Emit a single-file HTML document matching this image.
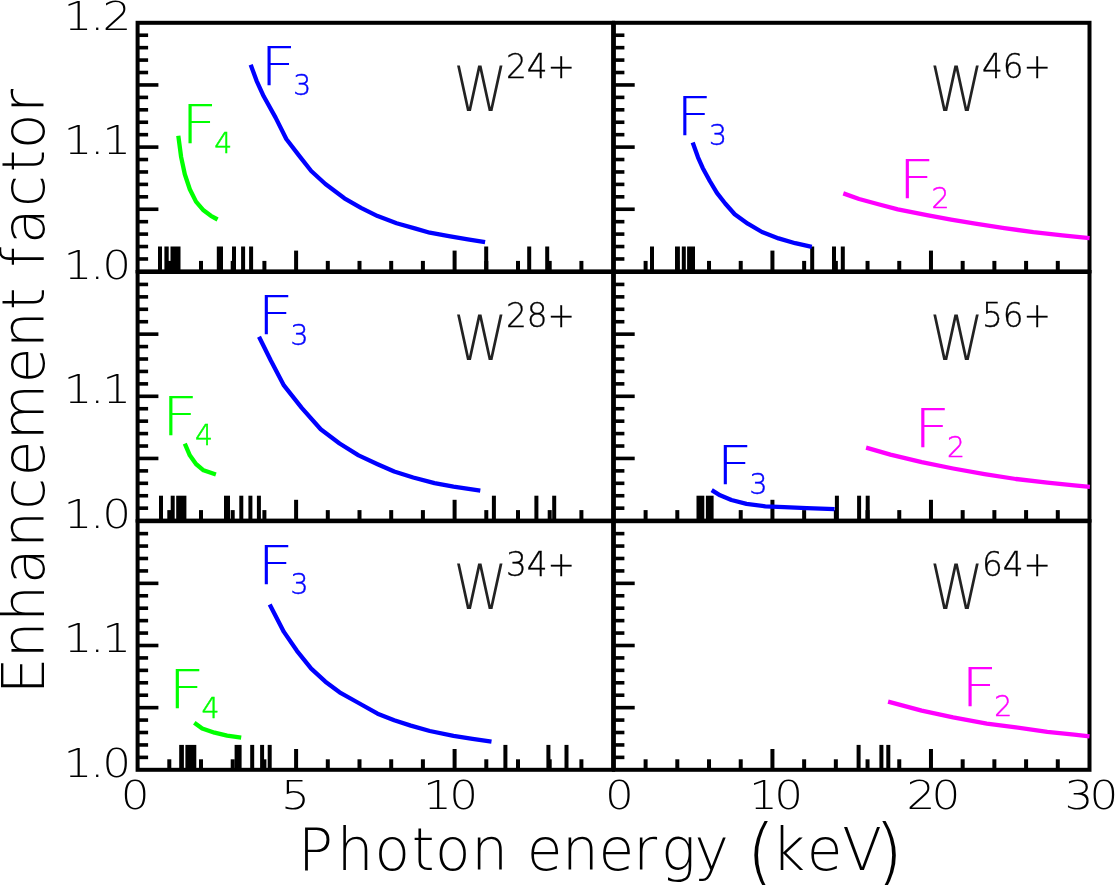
<!DOCTYPE html>
<html lang="en">
<head>
<meta charset="utf-8">
<title>Enhancement factor vs photon energy</title>
<style>
html,body{margin:0;padding:0;background:#fff;}
body{width:1115px;height:885px;overflow:hidden;}
svg{display:block;will-change:transform;}
text{white-space:pre;}
</style>
</head>
<body>
<svg width="1115" height="885" viewBox="0 0 1115 885">
<rect x="0" y="0" width="1115" height="885" fill="#ffffff"/>
<g id="axes" fill="#000">
<rect x="137.60" y="22.80" width="475.50" height="248.60" fill="none" stroke="#000" stroke-width="4.0"/>
<rect x="137.60" y="257.17" width="10.50" height="3.60" fill="#000"/>
<rect x="137.60" y="244.74" width="10.50" height="3.60" fill="#000"/>
<rect x="137.60" y="232.31" width="10.50" height="3.60" fill="#000"/>
<rect x="137.60" y="219.88" width="10.50" height="3.60" fill="#000"/>
<rect x="137.60" y="207.45" width="20.80" height="3.60" fill="#000"/>
<rect x="137.60" y="195.02" width="10.50" height="3.60" fill="#000"/>
<rect x="137.60" y="182.59" width="10.50" height="3.60" fill="#000"/>
<rect x="137.60" y="170.16" width="10.50" height="3.60" fill="#000"/>
<rect x="137.60" y="157.73" width="10.50" height="3.60" fill="#000"/>
<rect x="137.60" y="145.30" width="20.80" height="3.60" fill="#000"/>
<rect x="137.60" y="132.87" width="10.50" height="3.60" fill="#000"/>
<rect x="137.60" y="120.44" width="10.50" height="3.60" fill="#000"/>
<rect x="137.60" y="108.01" width="10.50" height="3.60" fill="#000"/>
<rect x="137.60" y="95.58" width="10.50" height="3.60" fill="#000"/>
<rect x="137.60" y="83.15" width="20.80" height="3.60" fill="#000"/>
<rect x="137.60" y="70.72" width="10.50" height="3.60" fill="#000"/>
<rect x="137.60" y="58.29" width="10.50" height="3.60" fill="#000"/>
<rect x="137.60" y="45.86" width="10.50" height="3.60" fill="#000"/>
<rect x="137.60" y="33.43" width="10.50" height="3.60" fill="#000"/>
<rect x="167.30" y="260.90" width="4.00" height="10.50" fill="#000"/>
<rect x="199.00" y="260.90" width="4.00" height="10.50" fill="#000"/>
<rect x="230.70" y="260.90" width="4.00" height="10.50" fill="#000"/>
<rect x="262.40" y="260.90" width="4.00" height="10.50" fill="#000"/>
<rect x="294.10" y="250.60" width="4.00" height="20.80" fill="#000"/>
<rect x="325.80" y="260.90" width="4.00" height="10.50" fill="#000"/>
<rect x="357.50" y="260.90" width="4.00" height="10.50" fill="#000"/>
<rect x="389.20" y="260.90" width="4.00" height="10.50" fill="#000"/>
<rect x="420.90" y="260.90" width="4.00" height="10.50" fill="#000"/>
<rect x="452.60" y="250.60" width="4.00" height="20.80" fill="#000"/>
<rect x="484.30" y="260.90" width="4.00" height="10.50" fill="#000"/>
<rect x="516.00" y="260.90" width="4.00" height="10.50" fill="#000"/>
<rect x="547.70" y="260.90" width="4.00" height="10.50" fill="#000"/>
<rect x="579.40" y="260.90" width="4.00" height="10.50" fill="#000"/>
<rect x="158.00" y="246.50" width="4.00" height="24.90" fill="#000"/>
<rect x="164.40" y="246.50" width="4.30" height="24.90" fill="#000"/>
<rect x="170.50" y="246.50" width="10.00" height="24.90" fill="#000"/>
<rect x="216.80" y="246.50" width="6.20" height="24.90" fill="#000"/>
<rect x="232.00" y="246.50" width="4.00" height="24.90" fill="#000"/>
<rect x="241.10" y="246.50" width="4.00" height="24.90" fill="#000"/>
<rect x="249.10" y="246.50" width="4.00" height="24.90" fill="#000"/>
<rect x="484.20" y="246.50" width="4.00" height="24.90" fill="#000"/>
<rect x="527.20" y="246.50" width="4.00" height="24.90" fill="#000"/>
<rect x="545.20" y="246.50" width="4.00" height="24.90" fill="#000"/>
<rect x="613.90" y="22.80" width="475.60" height="248.60" fill="none" stroke="#000" stroke-width="4.0"/>
<rect x="613.90" y="257.17" width="10.50" height="3.60" fill="#000"/>
<rect x="613.90" y="244.74" width="10.50" height="3.60" fill="#000"/>
<rect x="613.90" y="232.31" width="10.50" height="3.60" fill="#000"/>
<rect x="613.90" y="219.88" width="10.50" height="3.60" fill="#000"/>
<rect x="613.90" y="207.45" width="20.80" height="3.60" fill="#000"/>
<rect x="613.90" y="195.02" width="10.50" height="3.60" fill="#000"/>
<rect x="613.90" y="182.59" width="10.50" height="3.60" fill="#000"/>
<rect x="613.90" y="170.16" width="10.50" height="3.60" fill="#000"/>
<rect x="613.90" y="157.73" width="10.50" height="3.60" fill="#000"/>
<rect x="613.90" y="145.30" width="20.80" height="3.60" fill="#000"/>
<rect x="613.90" y="132.87" width="10.50" height="3.60" fill="#000"/>
<rect x="613.90" y="120.44" width="10.50" height="3.60" fill="#000"/>
<rect x="613.90" y="108.01" width="10.50" height="3.60" fill="#000"/>
<rect x="613.90" y="95.58" width="10.50" height="3.60" fill="#000"/>
<rect x="613.90" y="83.15" width="20.80" height="3.60" fill="#000"/>
<rect x="613.90" y="70.72" width="10.50" height="3.60" fill="#000"/>
<rect x="613.90" y="58.29" width="10.50" height="3.60" fill="#000"/>
<rect x="613.90" y="45.86" width="10.50" height="3.60" fill="#000"/>
<rect x="613.90" y="33.43" width="10.50" height="3.60" fill="#000"/>
<rect x="643.61" y="260.90" width="4.00" height="10.50" fill="#000"/>
<rect x="675.31" y="260.90" width="4.00" height="10.50" fill="#000"/>
<rect x="707.02" y="260.90" width="4.00" height="10.50" fill="#000"/>
<rect x="738.73" y="260.90" width="4.00" height="10.50" fill="#000"/>
<rect x="770.43" y="250.60" width="4.00" height="20.80" fill="#000"/>
<rect x="802.14" y="260.90" width="4.00" height="10.50" fill="#000"/>
<rect x="833.85" y="260.90" width="4.00" height="10.50" fill="#000"/>
<rect x="865.55" y="260.90" width="4.00" height="10.50" fill="#000"/>
<rect x="897.26" y="260.90" width="4.00" height="10.50" fill="#000"/>
<rect x="928.97" y="250.60" width="4.00" height="20.80" fill="#000"/>
<rect x="960.67" y="260.90" width="4.00" height="10.50" fill="#000"/>
<rect x="992.38" y="260.90" width="4.00" height="10.50" fill="#000"/>
<rect x="1024.09" y="260.90" width="4.00" height="10.50" fill="#000"/>
<rect x="1055.79" y="260.90" width="4.00" height="10.50" fill="#000"/>
<rect x="650.00" y="246.50" width="4.00" height="24.90" fill="#000"/>
<rect x="675.00" y="246.50" width="4.90" height="24.90" fill="#000"/>
<rect x="681.80" y="246.50" width="4.00" height="24.90" fill="#000"/>
<rect x="687.10" y="246.50" width="7.90" height="24.90" fill="#000"/>
<rect x="810.20" y="246.50" width="4.00" height="24.90" fill="#000"/>
<rect x="832.00" y="246.50" width="4.00" height="24.90" fill="#000"/>
<rect x="840.80" y="246.50" width="4.00" height="24.90" fill="#000"/>
<rect x="137.60" y="272.00" width="475.50" height="248.60" fill="none" stroke="#000" stroke-width="4.0"/>
<rect x="137.60" y="506.37" width="10.50" height="3.60" fill="#000"/>
<rect x="137.60" y="493.94" width="10.50" height="3.60" fill="#000"/>
<rect x="137.60" y="481.51" width="10.50" height="3.60" fill="#000"/>
<rect x="137.60" y="469.08" width="10.50" height="3.60" fill="#000"/>
<rect x="137.60" y="456.65" width="20.80" height="3.60" fill="#000"/>
<rect x="137.60" y="444.22" width="10.50" height="3.60" fill="#000"/>
<rect x="137.60" y="431.79" width="10.50" height="3.60" fill="#000"/>
<rect x="137.60" y="419.36" width="10.50" height="3.60" fill="#000"/>
<rect x="137.60" y="406.93" width="10.50" height="3.60" fill="#000"/>
<rect x="137.60" y="394.50" width="20.80" height="3.60" fill="#000"/>
<rect x="137.60" y="382.07" width="10.50" height="3.60" fill="#000"/>
<rect x="137.60" y="369.64" width="10.50" height="3.60" fill="#000"/>
<rect x="137.60" y="357.21" width="10.50" height="3.60" fill="#000"/>
<rect x="137.60" y="344.78" width="10.50" height="3.60" fill="#000"/>
<rect x="137.60" y="332.35" width="20.80" height="3.60" fill="#000"/>
<rect x="137.60" y="319.92" width="10.50" height="3.60" fill="#000"/>
<rect x="137.60" y="307.49" width="10.50" height="3.60" fill="#000"/>
<rect x="137.60" y="295.06" width="10.50" height="3.60" fill="#000"/>
<rect x="137.60" y="282.63" width="10.50" height="3.60" fill="#000"/>
<rect x="167.30" y="510.10" width="4.00" height="10.50" fill="#000"/>
<rect x="199.00" y="510.10" width="4.00" height="10.50" fill="#000"/>
<rect x="230.70" y="510.10" width="4.00" height="10.50" fill="#000"/>
<rect x="262.40" y="510.10" width="4.00" height="10.50" fill="#000"/>
<rect x="294.10" y="499.80" width="4.00" height="20.80" fill="#000"/>
<rect x="325.80" y="510.10" width="4.00" height="10.50" fill="#000"/>
<rect x="357.50" y="510.10" width="4.00" height="10.50" fill="#000"/>
<rect x="389.20" y="510.10" width="4.00" height="10.50" fill="#000"/>
<rect x="420.90" y="510.10" width="4.00" height="10.50" fill="#000"/>
<rect x="452.60" y="499.80" width="4.00" height="20.80" fill="#000"/>
<rect x="484.30" y="510.10" width="4.00" height="10.50" fill="#000"/>
<rect x="516.00" y="510.10" width="4.00" height="10.50" fill="#000"/>
<rect x="547.70" y="510.10" width="4.00" height="10.50" fill="#000"/>
<rect x="579.40" y="510.10" width="4.00" height="10.50" fill="#000"/>
<rect x="159.00" y="495.70" width="4.00" height="24.90" fill="#000"/>
<rect x="170.70" y="495.70" width="4.00" height="24.90" fill="#000"/>
<rect x="176.20" y="495.70" width="10.20" height="24.90" fill="#000"/>
<rect x="224.00" y="495.70" width="6.00" height="24.90" fill="#000"/>
<rect x="239.30" y="495.70" width="4.00" height="24.90" fill="#000"/>
<rect x="248.40" y="495.70" width="4.00" height="24.90" fill="#000"/>
<rect x="256.90" y="495.70" width="4.00" height="24.90" fill="#000"/>
<rect x="491.90" y="495.70" width="4.00" height="24.90" fill="#000"/>
<rect x="534.40" y="495.70" width="4.00" height="24.90" fill="#000"/>
<rect x="552.20" y="495.70" width="4.00" height="24.90" fill="#000"/>
<rect x="613.90" y="272.00" width="475.60" height="248.60" fill="none" stroke="#000" stroke-width="4.0"/>
<rect x="613.90" y="506.37" width="10.50" height="3.60" fill="#000"/>
<rect x="613.90" y="493.94" width="10.50" height="3.60" fill="#000"/>
<rect x="613.90" y="481.51" width="10.50" height="3.60" fill="#000"/>
<rect x="613.90" y="469.08" width="10.50" height="3.60" fill="#000"/>
<rect x="613.90" y="456.65" width="20.80" height="3.60" fill="#000"/>
<rect x="613.90" y="444.22" width="10.50" height="3.60" fill="#000"/>
<rect x="613.90" y="431.79" width="10.50" height="3.60" fill="#000"/>
<rect x="613.90" y="419.36" width="10.50" height="3.60" fill="#000"/>
<rect x="613.90" y="406.93" width="10.50" height="3.60" fill="#000"/>
<rect x="613.90" y="394.50" width="20.80" height="3.60" fill="#000"/>
<rect x="613.90" y="382.07" width="10.50" height="3.60" fill="#000"/>
<rect x="613.90" y="369.64" width="10.50" height="3.60" fill="#000"/>
<rect x="613.90" y="357.21" width="10.50" height="3.60" fill="#000"/>
<rect x="613.90" y="344.78" width="10.50" height="3.60" fill="#000"/>
<rect x="613.90" y="332.35" width="20.80" height="3.60" fill="#000"/>
<rect x="613.90" y="319.92" width="10.50" height="3.60" fill="#000"/>
<rect x="613.90" y="307.49" width="10.50" height="3.60" fill="#000"/>
<rect x="613.90" y="295.06" width="10.50" height="3.60" fill="#000"/>
<rect x="613.90" y="282.63" width="10.50" height="3.60" fill="#000"/>
<rect x="643.61" y="510.10" width="4.00" height="10.50" fill="#000"/>
<rect x="675.31" y="510.10" width="4.00" height="10.50" fill="#000"/>
<rect x="707.02" y="510.10" width="4.00" height="10.50" fill="#000"/>
<rect x="738.73" y="510.10" width="4.00" height="10.50" fill="#000"/>
<rect x="770.43" y="499.80" width="4.00" height="20.80" fill="#000"/>
<rect x="802.14" y="510.10" width="4.00" height="10.50" fill="#000"/>
<rect x="833.85" y="510.10" width="4.00" height="10.50" fill="#000"/>
<rect x="865.55" y="510.10" width="4.00" height="10.50" fill="#000"/>
<rect x="897.26" y="510.10" width="4.00" height="10.50" fill="#000"/>
<rect x="928.97" y="499.80" width="4.00" height="20.80" fill="#000"/>
<rect x="960.67" y="510.10" width="4.00" height="10.50" fill="#000"/>
<rect x="992.38" y="510.10" width="4.00" height="10.50" fill="#000"/>
<rect x="1024.09" y="510.10" width="4.00" height="10.50" fill="#000"/>
<rect x="1055.79" y="510.10" width="4.00" height="10.50" fill="#000"/>
<rect x="696.50" y="495.70" width="7.80" height="24.90" fill="#000"/>
<rect x="705.90" y="495.70" width="7.70" height="24.90" fill="#000"/>
<rect x="834.90" y="495.70" width="4.00" height="24.90" fill="#000"/>
<rect x="857.10" y="495.70" width="4.00" height="24.90" fill="#000"/>
<rect x="865.70" y="495.70" width="4.00" height="24.90" fill="#000"/>
<rect x="137.60" y="521.20" width="475.50" height="248.60" fill="none" stroke="#000" stroke-width="4.0"/>
<rect x="137.60" y="755.57" width="10.50" height="3.60" fill="#000"/>
<rect x="137.60" y="743.14" width="10.50" height="3.60" fill="#000"/>
<rect x="137.60" y="730.71" width="10.50" height="3.60" fill="#000"/>
<rect x="137.60" y="718.28" width="10.50" height="3.60" fill="#000"/>
<rect x="137.60" y="705.85" width="20.80" height="3.60" fill="#000"/>
<rect x="137.60" y="693.42" width="10.50" height="3.60" fill="#000"/>
<rect x="137.60" y="680.99" width="10.50" height="3.60" fill="#000"/>
<rect x="137.60" y="668.56" width="10.50" height="3.60" fill="#000"/>
<rect x="137.60" y="656.13" width="10.50" height="3.60" fill="#000"/>
<rect x="137.60" y="643.70" width="20.80" height="3.60" fill="#000"/>
<rect x="137.60" y="631.27" width="10.50" height="3.60" fill="#000"/>
<rect x="137.60" y="618.84" width="10.50" height="3.60" fill="#000"/>
<rect x="137.60" y="606.41" width="10.50" height="3.60" fill="#000"/>
<rect x="137.60" y="593.98" width="10.50" height="3.60" fill="#000"/>
<rect x="137.60" y="581.55" width="20.80" height="3.60" fill="#000"/>
<rect x="137.60" y="569.12" width="10.50" height="3.60" fill="#000"/>
<rect x="137.60" y="556.69" width="10.50" height="3.60" fill="#000"/>
<rect x="137.60" y="544.26" width="10.50" height="3.60" fill="#000"/>
<rect x="137.60" y="531.83" width="10.50" height="3.60" fill="#000"/>
<rect x="167.30" y="759.30" width="4.00" height="10.50" fill="#000"/>
<rect x="199.00" y="759.30" width="4.00" height="10.50" fill="#000"/>
<rect x="230.70" y="759.30" width="4.00" height="10.50" fill="#000"/>
<rect x="262.40" y="759.30" width="4.00" height="10.50" fill="#000"/>
<rect x="294.10" y="749.00" width="4.00" height="20.80" fill="#000"/>
<rect x="325.80" y="759.30" width="4.00" height="10.50" fill="#000"/>
<rect x="357.50" y="759.30" width="4.00" height="10.50" fill="#000"/>
<rect x="389.20" y="759.30" width="4.00" height="10.50" fill="#000"/>
<rect x="420.90" y="759.30" width="4.00" height="10.50" fill="#000"/>
<rect x="452.60" y="749.00" width="4.00" height="20.80" fill="#000"/>
<rect x="484.30" y="759.30" width="4.00" height="10.50" fill="#000"/>
<rect x="516.00" y="759.30" width="4.00" height="10.50" fill="#000"/>
<rect x="547.70" y="759.30" width="4.00" height="10.50" fill="#000"/>
<rect x="579.40" y="759.30" width="4.00" height="10.50" fill="#000"/>
<rect x="179.20" y="744.90" width="4.70" height="24.90" fill="#000"/>
<rect x="185.40" y="744.90" width="10.90" height="24.90" fill="#000"/>
<rect x="234.60" y="744.90" width="7.00" height="24.90" fill="#000"/>
<rect x="250.20" y="744.90" width="4.00" height="24.90" fill="#000"/>
<rect x="260.10" y="744.90" width="4.00" height="24.90" fill="#000"/>
<rect x="267.70" y="744.90" width="4.00" height="24.90" fill="#000"/>
<rect x="503.40" y="744.90" width="4.00" height="24.90" fill="#000"/>
<rect x="546.40" y="744.90" width="4.00" height="24.90" fill="#000"/>
<rect x="564.50" y="744.90" width="4.00" height="24.90" fill="#000"/>
<rect x="613.90" y="521.20" width="475.60" height="248.60" fill="none" stroke="#000" stroke-width="4.0"/>
<rect x="613.90" y="755.57" width="10.50" height="3.60" fill="#000"/>
<rect x="613.90" y="743.14" width="10.50" height="3.60" fill="#000"/>
<rect x="613.90" y="730.71" width="10.50" height="3.60" fill="#000"/>
<rect x="613.90" y="718.28" width="10.50" height="3.60" fill="#000"/>
<rect x="613.90" y="705.85" width="20.80" height="3.60" fill="#000"/>
<rect x="613.90" y="693.42" width="10.50" height="3.60" fill="#000"/>
<rect x="613.90" y="680.99" width="10.50" height="3.60" fill="#000"/>
<rect x="613.90" y="668.56" width="10.50" height="3.60" fill="#000"/>
<rect x="613.90" y="656.13" width="10.50" height="3.60" fill="#000"/>
<rect x="613.90" y="643.70" width="20.80" height="3.60" fill="#000"/>
<rect x="613.90" y="631.27" width="10.50" height="3.60" fill="#000"/>
<rect x="613.90" y="618.84" width="10.50" height="3.60" fill="#000"/>
<rect x="613.90" y="606.41" width="10.50" height="3.60" fill="#000"/>
<rect x="613.90" y="593.98" width="10.50" height="3.60" fill="#000"/>
<rect x="613.90" y="581.55" width="20.80" height="3.60" fill="#000"/>
<rect x="613.90" y="569.12" width="10.50" height="3.60" fill="#000"/>
<rect x="613.90" y="556.69" width="10.50" height="3.60" fill="#000"/>
<rect x="613.90" y="544.26" width="10.50" height="3.60" fill="#000"/>
<rect x="613.90" y="531.83" width="10.50" height="3.60" fill="#000"/>
<rect x="643.61" y="759.30" width="4.00" height="10.50" fill="#000"/>
<rect x="675.31" y="759.30" width="4.00" height="10.50" fill="#000"/>
<rect x="707.02" y="759.30" width="4.00" height="10.50" fill="#000"/>
<rect x="738.73" y="759.30" width="4.00" height="10.50" fill="#000"/>
<rect x="770.43" y="749.00" width="4.00" height="20.80" fill="#000"/>
<rect x="802.14" y="759.30" width="4.00" height="10.50" fill="#000"/>
<rect x="833.85" y="759.30" width="4.00" height="10.50" fill="#000"/>
<rect x="865.55" y="759.30" width="4.00" height="10.50" fill="#000"/>
<rect x="897.26" y="759.30" width="4.00" height="10.50" fill="#000"/>
<rect x="928.97" y="749.00" width="4.00" height="20.80" fill="#000"/>
<rect x="960.67" y="759.30" width="4.00" height="10.50" fill="#000"/>
<rect x="992.38" y="759.30" width="4.00" height="10.50" fill="#000"/>
<rect x="1024.09" y="759.30" width="4.00" height="10.50" fill="#000"/>
<rect x="1055.79" y="759.30" width="4.00" height="10.50" fill="#000"/>
<rect x="856.60" y="744.90" width="4.00" height="24.90" fill="#000"/>
<rect x="879.40" y="744.90" width="4.00" height="24.90" fill="#000"/>
<rect x="886.30" y="744.90" width="4.00" height="24.90" fill="#000"/>
</g>
<g id="curves" fill="none" stroke-width="4.3" stroke-linejoin="round">
<path d="M178.3,135.7 L181.1,156.9 L184.8,174.3 L189.8,189.2 L196.0,201.6 L203.5,210.3 L210.9,215.8 L217.6,219.5" stroke="#00ff00"/>
<path d="M250.7,64.7 L256.6,80.8 L263.7,96.3 L275.6,117.6 L286.3,139.0 L298.1,154.4 L311.2,171.0 L325.4,184.0 L344.4,198.3 L361.0,207.8 L377.6,216.1 L396.6,223.2 L415.6,228.6 L429.8,232.7 L448.8,236.2 L467.8,239.3 L485.1,242.2" stroke="#0000ff"/>
<path d="M184.8,443.7 L189.8,455.3 L196.0,464.0 L203.5,470.3 L215.9,474.5" stroke="#00ff00"/>
<path d="M259.0,336.8 L270.8,360.5 L283.9,385.4 L301.7,407.9 L320.7,429.3 L339.6,443.5 L358.6,455.4 L377.6,464.2 L394.2,471.5 L413.2,477.5 L434.5,483.2 L453.5,486.7 L480.3,490.7" stroke="#0000ff"/>
<path d="M194.3,722.7 L202.2,728.5 L214.6,732.7 L227.1,735.7 L241.2,737.7" stroke="#00ff00"/>
<path d="M269.7,604.6 L283.9,631.9 L296.9,650.8 L311.2,668.6 L325.4,681.7 L339.6,692.3 L358.6,703.0 L377.6,713.7 L394.2,720.3 L410.8,725.6 L429.8,731.0 L453.5,735.8 L472.5,738.9 L491.5,741.7" stroke="#0000ff"/>
<path d="M692.7,142.6 L698.0,157.3 L702.7,167.9 L709.8,181.0 L716.9,192.9 L725.2,203.5 L734.7,214.2 L747.8,223.7 L762.0,232.0 L778.6,238.4 L795.2,243.2 L811.8,246.9" stroke="#0000ff"/>
<path d="M843.3,193.4 L859.1,199.0 L878.4,204.3 L897.8,209.4 L926.9,215.2 L951.1,219.6 L975.3,223.7 L1004.3,228.1 L1033.4,232.2 L1062.4,235.3 L1089.6,238.2" stroke="#ff00ff"/>
<path d="M711.7,490.1 L720.1,495.3 L731.4,500.0 L746.5,503.8 L765.3,506.3 L784.2,507.2 L806.8,508.1 L834.6,509.1" stroke="#0000ff"/>
<path d="M866.1,447.6 L890.4,454.6 L921.7,462.2 L953.1,468.5 L984.5,474.1 L1015.9,479.0 L1047.3,482.6 L1074.2,485.3 L1089.9,486.9" stroke="#ff00ff"/>
<path d="M888.1,701.7 L921.7,710.6 L953.1,717.4 L986.8,723.6 L1015.9,727.4 L1047.3,731.9 L1074.2,734.6 L1089.5,736.4" stroke="#ff00ff"/>
</g>
<g id="labels" font-family="'DejaVu Sans Light','DejaVu Sans','Liberation Sans',sans-serif" font-weight="200">
<text transform="scale(1.170,1)" y="29.7" font-size="38.8" fill="#000"  x="54.3 76.9 87.7">1.2</text>
<text transform="scale(1.170,1)" y="154.1" font-size="38.8" fill="#000"  x="54.3 76.9 87.4">1.1</text>
<text transform="scale(1.170,1)" y="278.7" font-size="38.8" fill="#000"  x="54.3 76.9 87.4">1.0</text>
<text transform="scale(1.170,1)" y="403.3" font-size="38.8" fill="#000"  x="54.3 76.9 87.4">1.1</text>
<text transform="scale(1.170,1)" y="527.9" font-size="38.8" fill="#000"  x="54.3 76.9 87.4">1.0</text>
<text transform="scale(1.170,1)" y="652.5" font-size="38.8" fill="#000"  x="54.3 76.9 87.4">1.1</text>
<text transform="scale(1.170,1)" y="777.1" font-size="38.8" fill="#000"  x="54.3 76.9 87.4">1.0</text>
<text transform="scale(1.170,1)" y="808.6" font-size="38.8" fill="#000"  x="103.2">0</text>
<text transform="scale(1.170,1)" y="808.6" font-size="38.8" fill="#000"  x="240.1">5</text>
<text transform="scale(1.170,1)" y="808.6" font-size="38.8" fill="#000"  x="361.6 383.9">10</text>
<text transform="scale(1.170,1)" y="808.6" font-size="38.8" fill="#000"  x="517.0">0</text>
<text transform="scale(1.170,1)" y="808.6" font-size="38.8" fill="#000"  x="640.2 661.8">10</text>
<text transform="scale(1.170,1)" y="808.6" font-size="38.8" fill="#000"  x="774.7 796.1">20</text>
<text transform="scale(1.170,1)" y="808.6" font-size="38.8" fill="#000"  x="909.9 931.1">30</text>
<text y="870.3" font-size="58" fill="#000" x="298.0 336.7 374.5 411.8 435.1 471.3 505.0 526.8 562.0 598.6 633.2 661.1 694.6 727.0 746.0 771.4 806.7 842.2 874.1">Photon energy <tspan font-size="76" dy="8.4">(</tspan><tspan dy="-8.4">keV</tspan><tspan font-size="76" dy="8.4">)</tspan></text>
<text transform="translate(43.8,700.0) rotate(-90)" y="0" font-size="58" fill="#000" x="5.8 41.7 78.2 116.0 152.2 190.3 223.8 259.8 316.8 351.9 389.7 412.0 432.4 456.1 493.1 527.6 551.1 587.3">Enhancement factor</text>
<text x="453.3" y="110.6" font-size="63" fill="#222" textLength="54.4" lengthAdjust="spacingAndGlyphs">W</text>
<text x="505.9" y="78.0" font-size="34" fill="#000" stroke="#000" stroke-width="0.35" textLength="69" lengthAdjust="spacingAndGlyphs">24+</text>
<text x="929.4" y="110.6" font-size="63" fill="#222" textLength="54.4" lengthAdjust="spacingAndGlyphs">W</text>
<text x="982.0" y="78.0" font-size="34" fill="#000" stroke="#000" stroke-width="0.35" textLength="69" lengthAdjust="spacingAndGlyphs">46+</text>
<text x="453.3" y="359.8" font-size="63" fill="#222" textLength="54.4" lengthAdjust="spacingAndGlyphs">W</text>
<text x="505.9" y="327.2" font-size="34" fill="#000" stroke="#000" stroke-width="0.35" textLength="69" lengthAdjust="spacingAndGlyphs">28+</text>
<text x="929.4" y="359.8" font-size="63" fill="#222" textLength="54.4" lengthAdjust="spacingAndGlyphs">W</text>
<text x="982.0" y="327.2" font-size="34" fill="#000" stroke="#000" stroke-width="0.35" textLength="69" lengthAdjust="spacingAndGlyphs">56+</text>
<text x="453.3" y="609.0" font-size="63" fill="#222" textLength="54.4" lengthAdjust="spacingAndGlyphs">W</text>
<text x="505.9" y="576.4" font-size="34" fill="#000" stroke="#000" stroke-width="0.35" textLength="69" lengthAdjust="spacingAndGlyphs">34+</text>
<text x="929.4" y="609.0" font-size="63" fill="#222" textLength="54.4" lengthAdjust="spacingAndGlyphs">W</text>
<text x="982.0" y="576.4" font-size="34" fill="#000" stroke="#000" stroke-width="0.35" textLength="69" lengthAdjust="spacingAndGlyphs">64+</text>
<text x="259.8" y="85.0" font-size="52.6" fill="#0000ff" textLength="36.6" lengthAdjust="spacingAndGlyphs">F</text>
<text x="293.3" y="95.2" font-size="28.2" fill="#0000ff" stroke="#0000ff" stroke-width="0.5">3</text>
<text x="180.7" y="142.5" font-size="52.6" fill="#00ff00" textLength="36.6" lengthAdjust="spacingAndGlyphs">F</text>
<text x="214.2" y="152.7" font-size="28.2" fill="#00ff00" stroke="#00ff00" stroke-width="0.5">4</text>
<text x="256.9" y="334.4" font-size="52.6" fill="#0000ff" textLength="36.6" lengthAdjust="spacingAndGlyphs">F</text>
<text x="290.4" y="344.6" font-size="28.2" fill="#0000ff" stroke="#0000ff" stroke-width="0.5">3</text>
<text x="161.6" y="434.6" font-size="52.6" fill="#00ff00" textLength="36.6" lengthAdjust="spacingAndGlyphs">F</text>
<text x="195.1" y="444.8" font-size="28.2" fill="#00ff00" stroke="#00ff00" stroke-width="0.5">4</text>
<text x="256.9" y="583.9" font-size="52.6" fill="#0000ff" textLength="36.6" lengthAdjust="spacingAndGlyphs">F</text>
<text x="290.4" y="594.1" font-size="28.2" fill="#0000ff" stroke="#0000ff" stroke-width="0.5">3</text>
<text x="167.9" y="708.2" font-size="52.6" fill="#00ff00" textLength="36.6" lengthAdjust="spacingAndGlyphs">F</text>
<text x="201.4" y="718.4" font-size="28.2" fill="#00ff00" stroke="#00ff00" stroke-width="0.5">4</text>
<text x="675.5" y="135.0" font-size="52.6" fill="#0000ff" textLength="36.6" lengthAdjust="spacingAndGlyphs">F</text>
<text x="709.0" y="145.2" font-size="28.2" fill="#0000ff" stroke="#0000ff" stroke-width="0.5">3</text>
<text x="898.0" y="197.5" font-size="52.6" fill="#ff00ff" textLength="36.6" lengthAdjust="spacingAndGlyphs">F</text>
<text x="931.5" y="207.7" font-size="28.2" fill="#ff00ff" stroke="#ff00ff" stroke-width="0.5">2</text>
<text x="716.0" y="483.8" font-size="52.6" fill="#0000ff" textLength="36.6" lengthAdjust="spacingAndGlyphs">F</text>
<text x="749.5" y="494.0" font-size="28.2" fill="#0000ff" stroke="#0000ff" stroke-width="0.5">3</text>
<text x="913.6" y="446.8" font-size="52.6" fill="#ff00ff" textLength="36.6" lengthAdjust="spacingAndGlyphs">F</text>
<text x="947.1" y="457.0" font-size="28.2" fill="#ff00ff" stroke="#ff00ff" stroke-width="0.5">2</text>
<text x="960.7" y="705.8" font-size="52.6" fill="#ff00ff" textLength="36.6" lengthAdjust="spacingAndGlyphs">F</text>
<text x="994.2" y="716.0" font-size="28.2" fill="#ff00ff" stroke="#ff00ff" stroke-width="0.5">2</text>
</g>
</svg>
</body>
</html>
